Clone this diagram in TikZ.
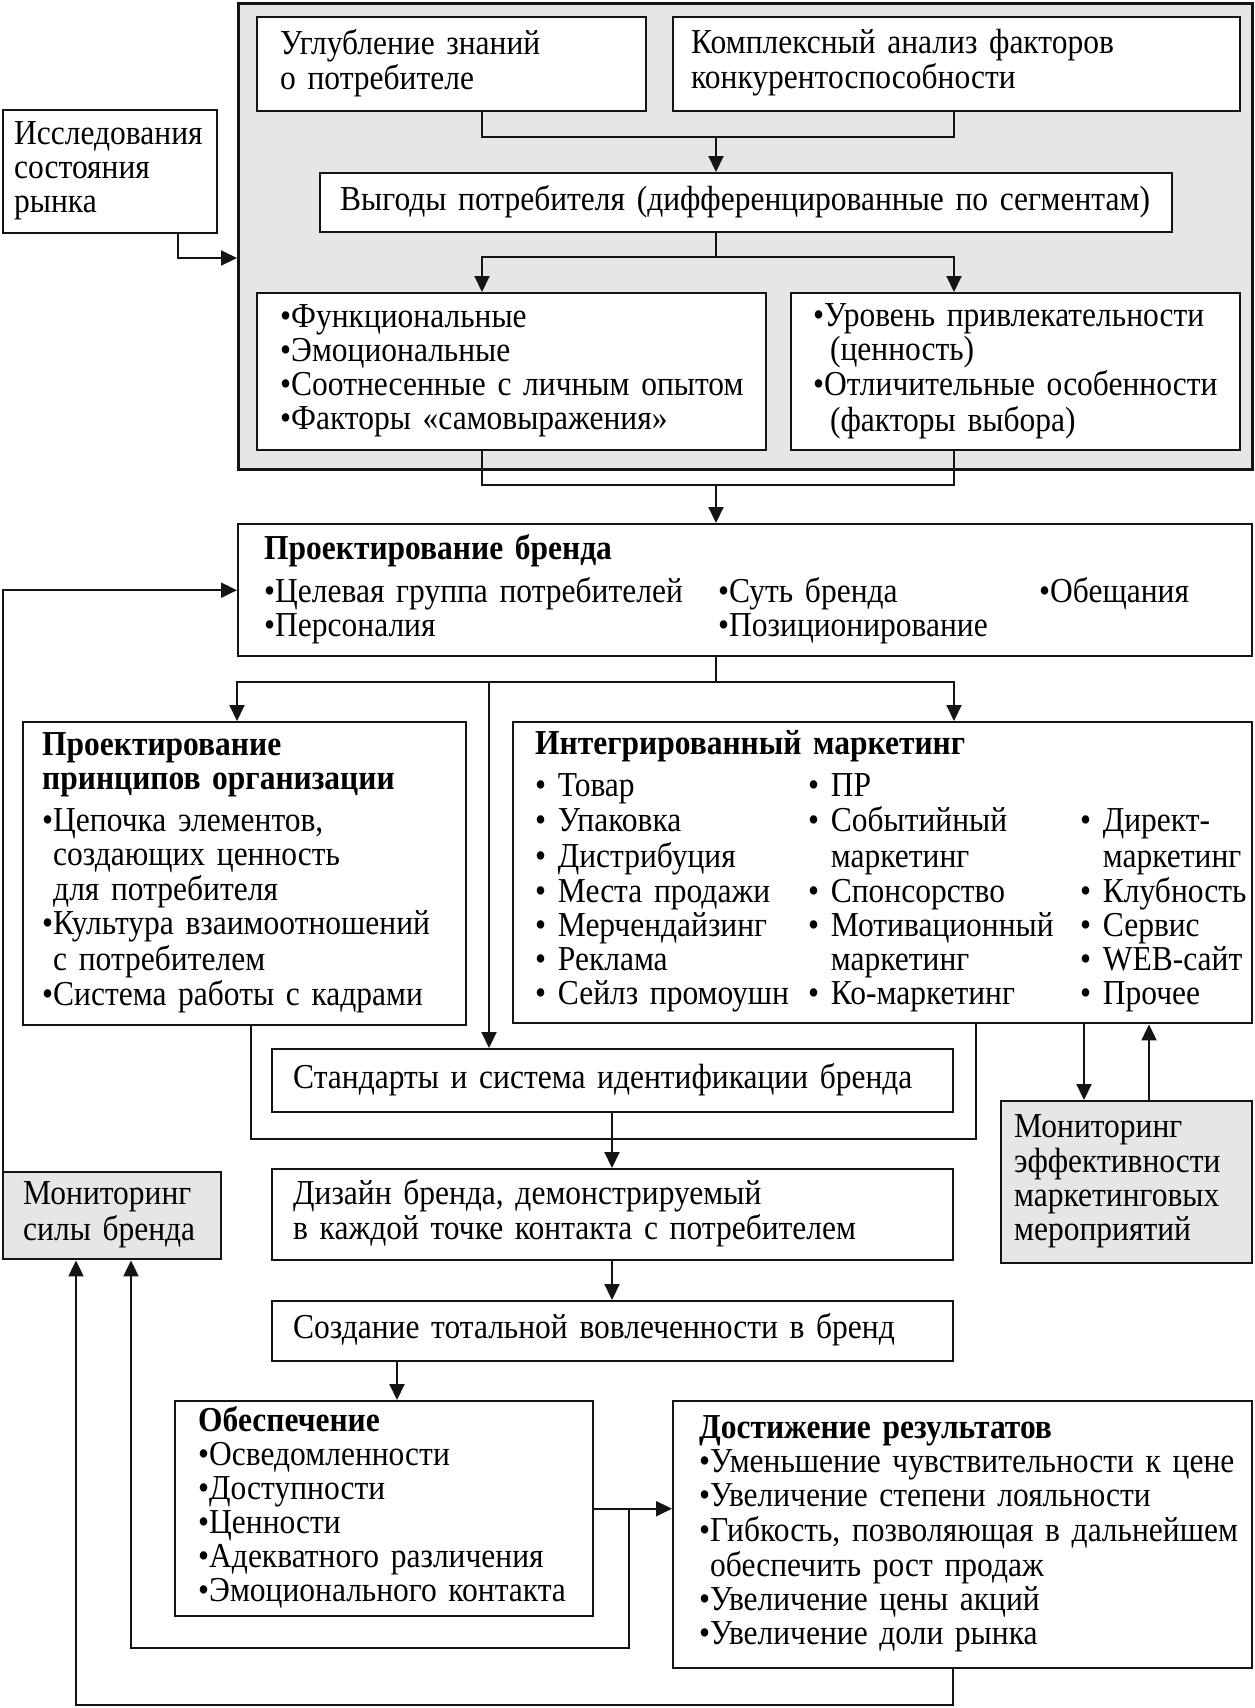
\documentclass[tikz,border=0pt]{standalone}
\usepackage{fontspec}
\usepackage{array}
\setmainfont{Liberation Serif}[FakeStretch=0.9,WordSpace=0.75]
\usetikzlibrary{arrows.meta}
\definecolor{PanelGrey}{RGB}{230,230,230}
\definecolor{LineBlack}{RGB}{20,20,20}

\tikzset{
  box/.style={draw=LineBlack, line width=1.2pt, fill=white, anchor=north west,
              align=left, inner ysep=0pt, font=\fontsize{17.5}{17}\selectfont},
  shaded/.style={box, fill=PanelGrey},
  link/.style={draw=LineBlack, line width=1pt},
  arr/.style={link, -{Triangle[length=8pt,width=7.5pt]}},
}
\newcommand{\boxlines}[1]{\begin{tabular}{@{}l@{}}#1\end{tabular}}

\begin{document}
\begin{tikzpicture}[x=0.5pt,y=-0.5pt]
  \useasboundingbox (0,0) rectangle (1254,1708);

  % research panel
  \node[shaded, line width=1.4pt, minimum width=507pt, minimum height=233pt] (bg) at (237,2) {};
  \node[box, minimum width=107pt, minimum height=61.5pt, inner xsep=5.5pt, text width=96pt] (mi) at (2,109)
    {\boxlines{Исследования\\состояния\\рынка}};
  \node[box, minimum width=194.5pt, minimum height=47pt, inner xsep=11.5pt, text width=171.5pt] (ug) at (256,16)
    {\boxlines{Углубление знаний\\о потребителе}};
  \node[box, minimum width=283.5pt, minimum height=47pt, inner xsep=9pt, text width=265.5pt] (ka) at (672,16)
    {\boxlines{Комплексный анализ факторов\\конкурентоспособности}};
  \node[box, minimum width=426pt, minimum height=29.5pt, inner xsep=10pt, text width=406pt] (vy) at (319,172)
    {\boxlines{Выгоды потребителя (дифференцированные по сегментам)}};
  \node[box, minimum width=254.5pt, minimum height=78.5pt, inner xsep=11.5pt, text width=231.5pt] (fu) at (256,292)
    {\boxlines{•Функциональные\\•Эмоциональные\\•Соотнесенные с личным опытом\\•Факторы «самовыражения»}};
  \node[box, minimum width=224.5pt, minimum height=78.5pt, inner xsep=11pt, text width=202.5pt] (ur) at (790,292)
    {\boxlines{•Уровень привлекательности\\\phantom{•\,}(ценность)\\•Отличительные особенности\\\phantom{•\,}(факторы выбора)}};

  % brand design
  \node[box, minimum width=507pt, minimum height=66pt, inner xsep=13pt, text width=481pt] (pb) at (237,523)
    {\begin{tabular}{@{}w{l}{227pt}@{}w{l}{160.5pt}@{}l@{}}
       \multicolumn{3}{@{}l@{}}{\bfseries Проектирование бренда}\\[4pt]
       •Целевая группа потребителей & •Суть бренда & •Обещания\\
       •Персоналия & •Позиционирование &
     \end{tabular}};
  \node[box, minimum width=221.5pt, minimum height=151.5pt, inner xsep=9.5pt, text width=202.5pt] (po) at (22,721)
    {\boxlines{\bfseries Проектирование\\\bfseries принципов организации\\[4pt]
       •Цепочка элементов,\\\phantom{•}создающих ценность\\\phantom{•}для потребителя\\
       •Культура взаимоотношений\\\phantom{•}с потребителем\\•Система работы с кадрами}};
  \node[box, minimum width=369.5pt, minimum height=150.5pt, inner xsep=11pt, text width=347.5pt] (im) at (512,721)
    {\begin{tabular}{@{}w{l}{136.5pt}@{}w{l}{136pt}@{}l@{}}
       \multicolumn{3}{@{}l@{}}{\bfseries Интегрированный маркетинг}\\[4pt]
       • Товар & • ПР & \\
       • Упаковка & • Событийный & • Директ-\\
       • Дистрибуция & \phantom{• }маркетинг & \phantom{• }маркетинг\\
       • Места продажи & • Спонсорство & • Клубность\\
       • Мерчендайзинг & • Мотивационный & • Сервис\\
       • Реклама & \phantom{• }маркетинг & • WEB-сайт\\
       • Сейлз промоушн & • Ко-маркетинг & • Прочее
     \end{tabular}};
  \node[box, minimum width=340.5pt, minimum height=31.5pt, inner xsep=10.5pt, text width=319.5pt] (st) at (271,1048)
    {\boxlines{Стандарты и система идентификации бренда}};
  \node[box, minimum width=340.5pt, minimum height=45.5pt, inner xsep=10.5pt, text width=319.5pt] (di) at (271,1168)
    {\boxlines{Дизайн бренда, демонстрируемый\\в каждой точке контакта с потребителем}};
  \node[box, minimum width=340.5pt, minimum height=30pt, inner xsep=10.5pt, text width=319.5pt] (cr) at (271,1300)
    {\boxlines{Создание тотальной вовлеченности в бренд}};
  \node[box, minimum width=209pt, minimum height=107.5pt, inner xsep=11.5pt, text width=186pt] (ob) at (174,1400)
    {\boxlines{\bfseries Обеспечение\\•Осведомленности\\•Доступности\\•Ценности\\
       •Адекватного различения\\•Эмоционального контакта}};
  \node[box, minimum width=289.5pt, minimum height=133.5pt, inner xsep=13pt, text width=263.5pt] (dr) at (672,1400)
    {\boxlines{\bfseries Достижение результатов\\•Уменьшение чувствительности к цене\\
       •Увеличение степени лояльности\\•Гибкость, позволяющая в дальнейшем\\
       \phantom{•}обеспечить рост продаж\\•Увеличение цены акций\\•Увеличение доли рынка}};

  % monitoring
  \node[shaded, minimum width=109pt, minimum height=43.5pt, inner xsep=10pt, text width=89pt] (ms) at (2,1171)
    {\boxlines{Мониторинг\\силы бренда}};
  \node[shaded, minimum width=125.5pt, minimum height=81pt, inner xsep=6.5pt, text width=112.5pt] (me) at (1000,1100)
    {\boxlines{Мониторинг\\эффективности\\маркетинговых\\мероприятий}};

  % connector columns and joints
  \coordinate (cL) at (482,0);
  \coordinate (cR) at (954,0);
  \coordinate (cA) at (237,0);
  \coordinate (cM) at (489,0);
  \coordinate (cP) at (251,0);
  \coordinate (cQ) at (976,0);
  \coordinate (cS) at (397,0);
  \coordinate (cU) at (953,0);
  \coordinate (cV) at (3,0);
  \coordinate (cW) at (1084,0);
  \coordinate (cX) at (1149,0);
  \coordinate (mij) at (178,258);
  \coordinate (j1) at (716,137);
  \coordinate (j2) at (716,257);
  \coordinate (j3) at (716,485);
  \coordinate (j4) at (716,682);
  \coordinate (j5) at (612,1139);
  \coordinate (j6) at (629,0);
  \coordinate (j7) at (131,1648);
  \coordinate (j8) at (76,1705);

  \draw[arr] (mi.south -| mij) |- (bg.west |- mij);
  \draw[link] (ug.south -| cL) |- (j1) -| (ka.south -| cR);
  \draw[arr] (j1) -- (vy.north -| j1);
  \draw[link] (vy.south -| j2) -- (j2);
  \draw[arr] (j2) -| (fu.north -| cL);
  \draw[arr] (j2) -| (ur.north -| cR);
  \draw[link] (fu.south -| cL) |- (j3) -| (ur.south -| cR);
  \draw[arr] (j3) -- (pb.north -| j3);
  \draw[link] (pb.south -| j4) -- (j4);
  \draw[arr] (j4) -| (po.north -| cA);
  \draw[arr] (j4) -| (im.north -| cR);
  \draw[arr] (j4 -| cM) -- (st.north -| cM);
  \draw[link] (po.south -| cP) |- (j5) -| (im.south -| cQ);
  \draw[arr] (st.south -| j5) -- (di.north -| j5);
  \draw[arr] (di.south -| j5) -- (cr.north -| j5);
  \draw[arr] (cr.south -| cS) -- (ob.north -| cS);
  \draw[arr] (ob.east) -- (ob.east -| dr.west);
  \draw[arr] (ob.east -| j6) |- (j7) -- (ms.south -| j7);
  \draw[arr] (dr.south -| cU) |- (j8) -- (ms.south -| j8);
  \draw[arr] (ms.north -| cV) |- (pb.west);
  \draw[arr] (im.south -| cW) -- (me.north -| cW);
  \draw[arr] (me.north -| cX) -- (im.south -| cX);
\end{tikzpicture}
\end{document}
